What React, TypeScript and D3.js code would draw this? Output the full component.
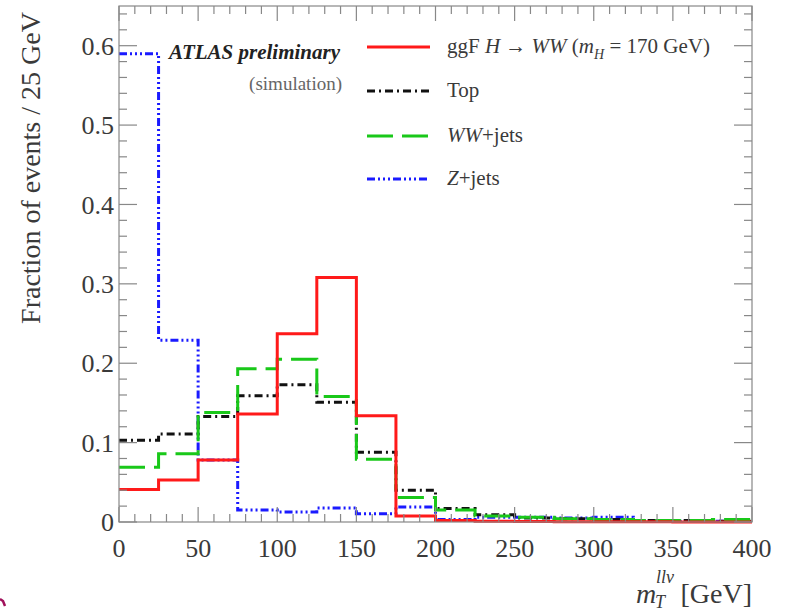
import React from "react";
import * as d3 from "d3";

const W = 786;
const H = 613;
const FRAME = { left: 119, right: 752, top: 6, bottom: 522 };

// bin edges in GeV (25 GeV bins)
const binEdges = [0, 25, 50, 75, 100, 125, 150, 175, 200, 225, 250, 275, 300, 325, 350, 375, 400];

// fraction of events per bin
const higgs = [0.041, 0.053, 0.078, 0.136, 0.237, 0.308, 0.134, 0.0075, 0.002, 0.001, 0.0006, 0.0004, 0.0003, 0.0002, 0.0001, 0.0001];
const topBkg = [0.103, 0.111, 0.133, 0.159, 0.173, 0.151, 0.088, 0.04, 0.017, 0.009, 0.005, 0.004, 0.003, 0.002, 0.002, 0.001];
const wwJets = [0.069, 0.086, 0.138, 0.193, 0.205, 0.158, 0.079, 0.031, 0.015, 0.0075, 0.006, 0.004, 0.003, 0.002, 0.002, 0.003];
const zJets = [0.59, 0.229, 0.078, 0.015, 0.0125, 0.0175, 0.0105, 0.019, 0.003, 0.006, 0.006, 0.005, 0.006, 0.001, 0.001, 0.001];

const xTicks = [0, 50, 100, 150, 200, 250, 300, 350, 400];
const yTicks = [0, 0.1, 0.2, 0.3, 0.4, 0.5, 0.6];

const series = [
  { name: "zjets", values: zJets, color: "#1a1aff", dash: "8,3,2,3,2,3,2,3" },
  { name: "top", values: topBkg, color: "#111111", dash: "8,4,2,4" },
  { name: "ww", values: wwJets, color: "#19c819", dash: "26,9" },
  { name: "higgs", values: higgs, color: "#ff1a1a", dash: "none" },
];

const FONT = "'Liberation Serif', 'DejaVu Serif', serif";
const GRAY = "#888";
const TXT = "#3a3a3a";

const App = () => {
  const x = d3.scaleLinear().domain([0, 400]).range([FRAME.left, FRAME.right]);
  const y = d3.scaleLinear().domain([0, 0.65]).range([FRAME.bottom, FRAME.top]);

  const minorX = d3.range(0, 401, 10).filter((v) => v % 50 !== 0);
  const minorY = d3.range(0, 0.65, 0.02).filter((v) => Math.abs(v * 10 - Math.round(v * 10)) > 1e-6);

  const line = d3
    .line<[number, number]>()
    .x((d) => x(d[0]))
    .y((d) => y(d[1]));

  const stepPath = (vals: number[]) => {
    const pts: [number, number][] = [];
    vals.forEach((v, i) => {
      pts.push([binEdges[i], v]);
      pts.push([binEdges[i + 1], v]);
    });
    return line(pts) || "";
  };

  const legend = [
    { color: "#ff1a1a", dash: "none", y: 47 },
    { color: "#111111", dash: "8,4,2,4", y: 91 },
    { color: "#19c819", dash: "26,9", y: 136 },
    { color: "#1a1aff", dash: "8,3,2,3,2,3,2,3", y: 179 },
  ];

  return (
    <svg
      width={W}
      height={H}
      style={{ position: "absolute", left: 0, top: 0, background: "white" }}
      fontFamily={FONT}
    >
      {/* histograms */}
      <g fill="none" strokeWidth={3}>
        {series.map((s) => (
          <path key={s.name} d={stepPath(s.values)} stroke={s.color} strokeDasharray={s.dash} />
        ))}
      </g>

      {/* frame */}
      <rect
        x={FRAME.left}
        y={FRAME.top}
        width={FRAME.right - FRAME.left}
        height={FRAME.bottom - FRAME.top}
        fill="none"
        stroke={GRAY}
        strokeWidth={1.2}
      />

      {/* ticks */}
      <g stroke={GRAY} strokeWidth={1.2}>
        {xTicks.map((t) => (
          <g key={"xt" + t}>
            <line x1={x(t)} x2={x(t)} y1={FRAME.bottom} y2={FRAME.bottom - 15} />
            <line x1={x(t)} x2={x(t)} y1={FRAME.top} y2={FRAME.top + 15} />
          </g>
        ))}
        {minorX.map((t) => (
          <g key={"xm" + t}>
            <line x1={x(t)} x2={x(t)} y1={FRAME.bottom} y2={FRAME.bottom - 8} />
            <line x1={x(t)} x2={x(t)} y1={FRAME.top} y2={FRAME.top + 8} />
          </g>
        ))}
        {yTicks.map((t) => (
          <g key={"yt" + t}>
            <line x1={FRAME.left} x2={FRAME.left + 18} y1={y(t)} y2={y(t)} />
            <line x1={FRAME.right} x2={FRAME.right - 18} y1={y(t)} y2={y(t)} />
          </g>
        ))}
        {minorY.map((t) => (
          <g key={"ym" + t}>
            <line x1={FRAME.left} x2={FRAME.left + 8} y1={y(t)} y2={y(t)} />
            <line x1={FRAME.right} x2={FRAME.right - 8} y1={y(t)} y2={y(t)} />
          </g>
        ))}
      </g>

      {/* tick labels */}
      <g fill={TXT} fontSize={26}>
        {xTicks.map((t) => (
          <text key={"xl" + t} x={x(t)} y={557} textAnchor="middle">
            {t}
          </text>
        ))}
        {yTicks.map((t) => (
          <text key={"yl" + t} x={114} y={y(t)} dy="0.35em" textAnchor="end">
            {t === 0 ? "0" : t.toFixed(1)}
          </text>
        ))}
      </g>

      {/* axis titles */}
      <text
        transform="translate(40, 168) rotate(-90)"
        textAnchor="middle"
        fontSize={28}
        fill={TXT}
      >
        Fraction of events / 25 GeV
      </text>
      <g fill={TXT}>
        <text x={636} y={603} fontSize={28} fontStyle="italic">m</text>
        <text x={656} y={583} fontSize={18} fontStyle="italic">llν</text>
        <text x={655} y={608} fontSize={18} fontStyle="italic">T</text>
        <text x={752} y={603} fontSize={28} textAnchor="end">[GeV]</text>
      </g>

      {/* labels */}
      <text x={340} y={59} fontSize={21} fontWeight="bold" fontStyle="italic" textAnchor="end" fill="#222">
        ATLAS preliminary
      </text>
      <text x={342} y={90} fontSize={19} textAnchor="end" fill="#666">
        (simulation)
      </text>

      {/* legend */}
      <g>
        {legend.map((l, i) => (
          <line
            key={"lg" + i}
            x1={367}
            x2={430}
            y1={l.y}
            y2={l.y}
            stroke={l.color}
            strokeWidth={3}
            strokeDasharray={l.dash}
          />
        ))}
        <g fontSize={21} fill={TXT}>
          <text x={447} y={53}>
            ggF <tspan fontStyle="italic">H</tspan> → <tspan fontStyle="italic">WW</tspan> (
            <tspan fontStyle="italic">m</tspan>
            <tspan fontStyle="italic" fontSize={14} dy={6}>H</tspan>
            <tspan dy={-6}> = 170 GeV)</tspan>
          </text>
          <text x={447} y={97}>Top</text>
          <text x={447} y={142}>
            <tspan fontStyle="italic">WW</tspan>+jets
          </text>
          <text x={447} y={185}>
            <tspan fontStyle="italic">Z</tspan>+jets
          </text>
        </g>
      </g>

      {/* small mark at the bottom-left edge */}
      <path d="M0,599 L3,601 L5,606" fill="none" stroke="#a0105a" strokeWidth={2.5} />
    </svg>
  );
};

export default App;
